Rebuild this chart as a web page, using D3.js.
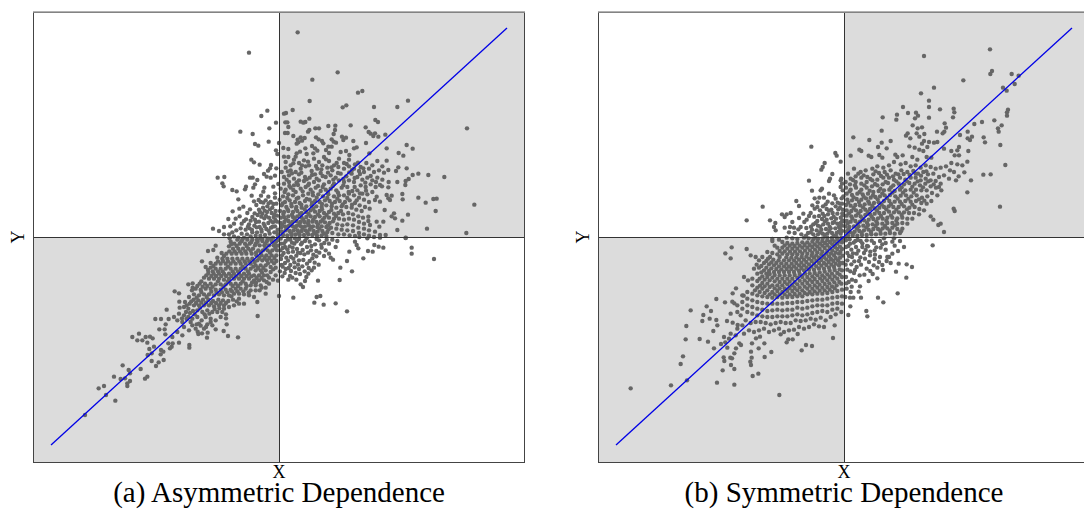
<!DOCTYPE html>
<html lang="en">
<head>
  <meta charset="UTF-8">
  <title>Dependence</title>
  <script src="https://d3js.org/d3.v7.min.js"></script>
  <style>
    body { margin: 0; padding: 0; background: #fff; overflow: hidden; }
    svg { position: absolute; left: 0; top: 0; }
    text { font-family: 'Liberation Serif', serif; fill: #000; }
  </style>
</head>
<body>
  <svg id="chart" width="1084" height="513"></svg>
  <script>
    // values, the chart has no ticks so units are arbitrary, origin at the crossing
    var xExtent = [-738, 735];
    var yExtent = [-675, 675];
    var lineEnds = [[-684, -624], [684, 627]];
    var titles = ['(a) Asymmetric Dependence', '(b) Symmetric Dependence'];

    var asymOuter = [[56,614],[-90,553],[176,494],[100,472],[250,438],[237,433],[92,408],[387,409],[202,395],[191,389],[285,390],[355,390],[-35,379],[41,381],[21,372],[15,370],[-53,363],[91,355],[289,351],[297,345],[-9,343],[19,344],[25,344],[65,346],[79,345],[73,343],[28,330],[-29,326],[-116,316],[-79,309],[564,326],[148,333],[169,334],[215,335],[260,329],[109,326],[120,326],[91,321],[168,321],[87,316],[18,312],[26,312],[164,309],[269,315],[275,310],[288,311],[319,307],[283,303],[298,301],[43,303],[65,299],[77,297],[56,292],[69,289],[111,299],[119,293],[189,301],[201,298],[193,291],[158,293],[164,286],[171,283],[129,288],[133,281],[223,288],[261,282],[383,276],[401,265],[323,266],[-31,286],[0,282],[-72,279],[-62,274],[13,267],[28,264],[58,284],[53,280],[79,266],[99,273],[108,266],[115,259],[148,271],[158,271],[141,261],[150,252],[185,255],[201,258],[211,246],[225,266],[233,269],[271,251],[-9,260],[-5,249],[15,241],[28,240],[53,251],[50,241],[63,256],[83,249],[103,251],[359,252],[373,244],[323,229],[-83,232],[-75,224],[-58,217],[-24,216],[-8,206],[-27,206],[-33,199],[-45,189],[-37,181],[-25,178],[-12,184],[-87,178],[-79,178],[-184,178],[-164,180],[-170,161],[-166,152],[-65,171],[-72,158],[-99,151],[-77,148],[-44,148],[-47,136],[-17,151],[-2,159],[-140,141],[-127,137],[-102,143],[-82,124],[-54,124],[-32,121],[-122,113],[-12,131]];
    var asymUpperRight = [[383,206],[358,209],[351,198],[328,201],[315,193],[418,190],[448,186],[496,180],[401,186],[389,174],[380,168],[355,165],[329,165],[379,156],[328,149],[303,156],[370,129],[418,118],[371,113],[440,103],[463,114],[473,115],[586,97],[470,78],[387,67],[345,71],[338,62],[348,56],[370,49],[355,21],[444,25],[562,12],[380,-3],[320,6],[317,81],[293,121],[323,126],[338,124],[328,116],[333,111],[288,111],[303,106],[313,46],[293,46],[273,36],[301,31],[288,16],[303,6],[268,61],[20,225],[35,215],[45,232],[60,222],[75,230],[90,215],[105,235],[120,225],[135,240],[150,228],[165,215],[180,235],[195,222],[210,232],[228,218],[245,210],[262,222],[280,215],[295,228],[310,212],[270,205],[285,195],[300,200],[255,195],[240,198],[225,205],[210,212],[195,205],[178,210],[160,200],[145,208],[130,215],[115,205],[98,198],[80,212],[65,205],[50,195],[35,200],[20,208],[8,195],[15,180],[30,185],[45,175],[60,188],[78,180],[92,178],[108,188],[125,192],[140,180],[155,185],[170,178],[185,190],[202,182],[218,190],[235,180],[250,172],[265,178],[280,170],[295,178],[310,172],[245,155],[260,150],[275,158],[290,150],[225,165],[210,170],[195,165],[180,170],[165,160],[150,165],[135,158],[120,170],[105,165],[90,160],[75,168],[60,170],[45,155],[30,165],[15,160],[5,145],[20,142],[35,148],[50,135],[65,145],[80,150],[95,142],[110,148],[125,138],[140,142],[155,145],[172,140],[188,148],[205,150],[220,138],[235,140],[250,130],[265,128],[280,135],[240,118],[255,112],[270,105],[225,125],[210,130],[195,125],[180,125],[165,122],[148,128],[132,122],[118,128],[102,125],[88,130],[72,125],[58,118],[42,125],[28,128],[12,122],[2,112],[18,105],[32,110],[48,105],[62,102],[78,108],[92,112],[108,108],[122,105],[138,110],[152,108],[168,105],[182,108],[198,105],[212,110],[228,102],[242,95],[258,90],[272,85],[248,78],[232,82],[218,88],[202,90],[188,92],[172,88],[158,92],[142,95],[128,90],[112,92],[98,95],[82,92],[68,88],[52,90],[38,92],[22,90],[8,95],[3,78],[15,75],[28,78],[42,75],[55,78],[68,72],[82,75],[95,80],[108,76],[122,78],[135,72],[150,75],[165,70],[178,72],[192,68],[208,72],[222,68],[238,62],[252,58],[268,48],[255,40],[240,45],[225,52],[210,55],[195,52],[180,55],[165,55],[150,58],[136,58],[122,62],[108,60],[95,62],[82,60],[68,58],[55,62],[42,60],[28,62],[15,60],[5,58],[4,42],[16,45],[28,48],[40,45],[52,48],[64,45],[76,45],[88,48],[100,46],[112,45],[125,46],[138,44],[152,42],[175,38],[190,35],[205,38],[222,35],[238,28],[255,25],[270,20],[240,12],[222,18],[205,20],[188,22],[172,25],[156,28],[142,30],[128,32],[115,30],[102,32],[90,34],[78,32],[66,32],[54,34],[42,32],[30,34],[18,32],[6,28],[8,16],[20,20],[32,18],[44,20],[56,20],[68,18],[80,20],[92,22],[104,18],[116,16],[130,18],[145,15],[160,12],[178,8],[195,8],[212,5],[228,3],[255,8],[270,4],[12,6],[25,5],[38,6],[50,8],[62,6],[75,6],[88,8],[100,6],[114,4],[128,5],[142,3]];
    var asymUpperLeft = [[-12,118],[-25,105],[-40,110],[-55,105],[-68,96],[-60,82],[-48,88],[-35,92],[-20,88],[-8,100],[-10,78],[-22,72],[-36,75],[-50,70],[-64,66],[-80,60],[-95,72],[-105,48],[-118,62],[-130,55],[-135,40],[-112,40],[-90,38],[-72,52],[-60,46],[-44,56],[-30,58],[-16,60],[-6,64],[-6,46],[-18,44],[-32,42],[-46,40],[-58,30],[-74,34],[-88,26],[-100,22],[-115,26],[-128,20],[-150,8],[-165,8],[-180,18],[-165,30],[-198,25],[-140,14],[-112,10],[-96,8],[-80,14],[-66,14],[-52,16],[-38,24],[-24,28],[-12,32],[-4,22],[-14,14],[-28,10],[-42,6],[-56,4],[-70,4],[-85,2],[-135,2],[-122,-2],[-4,6],[-18,-2],[-34,-4],[-50,-6],[-66,-8],[-105,-2],[-148,-4]];
    var asymLowerRight = [[465,-66],[398,-32],[398,-50],[380,-2],[219,-103],[182,-129],[184,-92],[204,-72],[211,-44],[238,-34],[253,-64],[267,-42],[281,-44],[286,-24],[299,-29],[313,-32],[228,-14],[233,-24],[241,0],[265,-4],[285,0],[303,-2],[204,-223],[170,-199],[134,-203],[106,-197],[124,-177],[113,-180],[43,-182],[0,-177],[117,-131],[98,-100],[105,-92],[88,-110],[72,-150],[65,-142],[78,-132],[82,-120],[52,-128],[40,-122],[28,-128],[10,-118],[20,-96],[36,-102],[50,-108],[60,-96],[70,-88],[84,-80],[92,-72],[100,-64],[112,-58],[155,-62],[162,-68],[150,-50],[140,-40],[170,-30],[150,-20],[160,-8],[175,-12],[128,-32],[136,-18],[120,-10],[108,-22],[112,-42],[96,-40],[84,-30],[92,-14],[76,-52],[60,-70],[46,-76],[34,-84],[18,-78],[8,-84],[6,-66],[22,-62],[36,-60],[52,-56],[64,-48],[78,-12],[66,-22],[54,-36],[42,-44],[28,-46],[14,-48],[4,-40],[18,-30],[32,-28],[46,-20],[60,-6],[6,-20],[20,-12],[34,-8],[48,-4]];
    var asymLowerLeft = [[-64,-237],[-123,-301],[-153,-297],[-166,-282],[-159,-244],[-159,-232],[-157,-262],[-190,-277],[-214,-287],[-216,-302],[-231,-289],[-244,-284],[-242,-291],[-269,-324],[-269,-332],[-300,-317],[-322,-329],[-327,-334],[-332,-319],[-319,-319],[-337,-218],[-313,-163],[-300,-169],[-299,-194],[-272,-142],[-259,-139],[-259,-152],[-231,-73],[-213,-42],[-197,-39],[-190,-26],[-371,-246],[-354,-246],[-331,-246],[-340,-262],[-359,-277],[-343,-277],[-341,-292],[-387,-299],[-379,-304],[-395,-317],[-375,-329],[-389,-336],[-394,-354],[-382,-349],[-354,-339],[-347,-344],[-355,-352],[-346,-369],[-361,-376],[-369,-387],[-382,-372],[-469,-385],[-451,-399],[-447,-409],[-475,-426],[-462,-424],[-447,-432],[-455,-439],[-455,-447],[-495,-419],[-415,-396],[-395,-419],[-402,-425],[-525,-447],[-541,-454],[-519,-474],[-491,-491],[-582,-534],[-440,-300],[-425,-310],[-410,-310],[-400,-300],[-420,-290],[-320,-300],[-305,-285],[-290,-295],[-285,-270],[-270,-280],[-260,-265],[-250,-275],[-240,-260],[-225,-275],[-215,-262],[-200,-265],[-290,-255],[-305,-250],[-315,-240],[-300,-230],[-285,-235],[-272,-240],[-260,-245],[-245,-240],[-232,-250],[-220,-240],[-205,-245],[-190,-250],[-175,-240],[-170,-225],[-185,-225],[-200,-225],[-215,-220],[-230,-225],[-245,-220],[-258,-222],[-272,-215],[-285,-210],[-298,-212],[-282,-195],[-268,-200],[-255,-205],[-240,-205],[-225,-205],[-210,-205],[-195,-208],[-180,-205],[-165,-205],[-150,-210],[-135,-205],[-120,-200],[-105,-200],[-120,-185],[-138,-188],[-152,-192],[-168,-190],[-182,-188],[-198,-192],[-212,-188],[-228,-188],[-242,-190],[-256,-188],[-270,-180],[-255,-172],[-240,-175],[-225,-172],[-210,-172],[-195,-175],[-180,-172],[-165,-175],[-150,-175],[-135,-170],[-120,-170],[-105,-172],[-90,-175],[-75,-180],[-65,-195],[-58,-160],[-40,-170],[-70,-160],[-85,-160],[-100,-155],[-115,-155],[-130,-155],[-145,-158],[-160,-158],[-175,-158],[-190,-158],[-205,-155],[-220,-155],[-235,-158],[-250,-155],[-238,-140],[-222,-140],[-205,-140],[-190,-142],[-175,-142],[-160,-142],[-145,-140],[-130,-140],[-115,-140],[-100,-140],[-85,-145],[-70,-145],[-55,-145],[-40,-152],[-30,-140],[-45,-130],[-60,-130],[-75,-130],[-90,-125],[-105,-125],[-120,-125],[-135,-125],[-150,-125],[-165,-128],[-180,-125],[-195,-125],[-210,-125],[-225,-122],[-212,-108],[-196,-110],[-180,-110],[-165,-110],[-150,-110],[-135,-110],[-120,-110],[-105,-110],[-90,-110],[-75,-115],[-60,-115],[-45,-115],[-30,-122],[-18,-128],[-10,-115],[-25,-105],[-40,-100],[-55,-100],[-70,-100],[-85,-95],[-100,-95],[-115,-95],[-130,-95],[-145,-95],[-160,-95],[-175,-95],[-190,-95],[-205,-92],[-220,-90],[-205,-78],[-190,-80],[-175,-80],[-160,-80],[-145,-80],[-130,-80],[-115,-80],[-100,-80],[-85,-80],[-70,-85],[-55,-85],[-40,-85],[-25,-90],[-10,-92],[-8,-72],[-22,-72],[-36,-70],[-50,-70],[-65,-70],[-80,-65],[-95,-65],[-110,-65],[-125,-65],[-140,-65],[-155,-65],[-170,-65],[-185,-62],[-172,-48],[-158,-50],[-142,-50],[-128,-50],[-112,-50],[-98,-50],[-82,-50],[-68,-55],[-52,-55],[-38,-55],[-22,-55],[-8,-55],[-6,-40],[-20,-40],[-34,-40],[-48,-40],[-62,-40],[-78,-35],[-92,-35],[-108,-35],[-122,-35],[-138,-35],[-150,-28],[-134,-20],[-118,-20],[-102,-20],[-88,-20],[-72,-25],[-58,-25],[-44,-25],[-30,-25],[-16,-25],[-4,-26],[-8,-12],[-22,-12],[-36,-12],[-50,-12],[-64,-14],[-80,-8],[-95,-8],[-110,-8],[-125,-8],[-145,-14]];
    // extra marks in the dense parts, where single dots run together
    var asymDense = [[11,13],[23,27],[37,11],[49,29],[59,13],[71,27],[85,14],[97,29],[109,11],[121,25],[135,11],[149,23],[9,37],[21,53],[35,39],[47,55],[61,39],[73,52],[87,41],[103,53],[117,38],[131,51],[147,35],[162,47],[13,69],[26,83],[39,67],[51,84],[63,69],[77,83],[89,69],[103,85],[117,68],[129,83],[143,66],[157,81],[171,63],[186,78],[11,101],[25,117],[37,99],[53,115],[67,97],[83,114],[99,103],[113,118],[129,99],[145,117],[159,100],[175,115],[191,98],[205,117],[219,97],[233,110],[17,135],[31,153],[43,141],[57,156],[71,137],[87,155],[101,134],[117,153],[131,150],[147,136],[161,153],[177,133],[193,155],[209,135],[227,150],[243,131],[261,139],[23,172],[39,191],[53,164],[67,193],[83,173],[99,186],[113,175],[131,183],[147,193],[163,172],[177,192],[193,174],[211,194],[227,177],[243,189],[259,163],[275,183],[291,165],[309,152],[27,197],[43,221],[69,215],[87,226],[111,213],[127,203],[141,233],[157,209],[173,222],[203,219],[219,201],[237,223],[253,206],[-7,14],[-19,31],[-31,19],[-43,33],[-53,23],[-67,29],[-81,21],[-93,31],[-11,51],[-25,49],[-39,63],[-53,61],[-69,45],[-85,49],[-99,53],[-13,67],[-27,83],[-43,79],[-57,75],[-73,71],[-87,83],[-17,99],[-31,101],[-47,103],[-61,111],[-75,107],[-107,91],[-119,85],[-139,77],[-152,54],[-146,32],[5,-5],[15,-19],[27,-7],[39,-17],[53,-13],[69,-17],[83,-4],[97,-27],[113,-6],[127,-23],[143,-8],[11,-33],[25,-37],[41,-32],[57,-47],[71,-39],[87,-47],[103,-53],[121,-47],[135,-57],[9,-55],[27,-71],[43,-65],[57,-83],[73,-69],[89,-93],[107,-77],[119,-83],[11,-89],[29,-93],[47,-91],[63,-111],[77,-103],[17,-108],[33,-117],[3,-103],[-3,-131],[-4,-9],[-13,-19],[-27,-5],[-41,-19],[-55,-5],[-69,-19],[-83,-15],[-97,-27],[-113,-13],[-127,-27],[-143,-21],[-11,-33],[-27,-47],[-41,-33],[-55,-47],[-69,-47],[-85,-41],[-101,-43],[-117,-43],[-133,-43],[-149,-43],[-165,-57],[-14,-63],[-29,-63],[-43,-63],[-59,-63],[-73,-75],[-89,-73],[-103,-73],[-119,-73],[-137,-73],[-153,-73],[-168,-72],[-183,-73],[-197,-87],[-15,-79],[-33,-79],[-47,-93],[-63,-93],[-77,-89],[-93,-103],[-109,-89],[-123,-103],[-139,-103],[-153,-89],[-169,-103],[-183,-103],[-199,-103],[-213,-99],[-17,-97],[-35,-115],[-51,-107],[-67,-123],[-83,-118],[-97,-117],[-113,-117],[-129,-118],[-143,-117],[-159,-117],[-173,-117],[-189,-117],[-203,-117],[-218,-115],[-233,-133],[-37,-135],[-52,-123],[-69,-137],[-81,-137],[-97,-147],[-109,-133],[-123,-147],[-139,-147],[-153,-133],[-167,-149],[-183,-133],[-199,-149],[-215,-147],[-229,-149],[-245,-147],[-261,-160],[-52,-152],[-91,-167],[-107,-163],[-125,-163],[-141,-163],[-155,-166],[-171,-166],[-187,-166],[-203,-164],[-217,-180],[-233,-165],[-247,-182],[-263,-193],[-127,-193],[-143,-178],[-159,-198],[-175,-198],[-189,-198],[-203,-198],[-219,-197],[-233,-197],[-249,-198],[-277,-205],[-165,-215],[-179,-214],[-193,-216],[-209,-230],[-223,-232],[-237,-212],[-253,-232],[-267,-228],[-279,-225],[-291,-244],[-265,-255],[-277,-246],[-235,-266],[-219,-270],[-205,-255],[-247,-262]];

    var symOuter = [[438,563],[240,543],[444,498],[439,489],[503,489],[524,484],[358,470],[512,459],[477,448],[488,439],[270,448],[231,431],[255,409],[255,390],[177,390],[288,383],[329,385],[331,374],[327,359],[492,382],[489,374],[489,364],[192,372],[216,373],[222,364],[213,356],[159,367],[157,352],[116,359],[255,358],[451,350],[414,345],[391,339],[302,341],[473,335],[462,326],[464,316],[306,328],[301,316],[296,311],[206,335],[221,326],[234,329],[113,319],[279,316],[348,306],[371,316],[384,301],[378,291],[371,296],[191,311],[186,304],[199,296],[218,311],[241,309],[226,301],[28,299],[76,291],[140,288],[113,283],[419,299],[423,284],[469,276],[-98,271],[240,288],[255,285],[270,283],[280,285],[234,280],[250,270],[196,272],[212,268],[226,262],[238,258],[102,270],[128,266],[46,262],[52,258],[74,244],[82,240],[20,244],[106,246],[115,238],[154,247],[160,240],[176,245],[205,240],[220,232],[248,240],[262,238],[300,265],[322,258],[345,270],[340,260],[332,245],[345,245],[373,258],[-26,252],[-22,244],[-10,226],[-58,222],[-64,210],[-68,202],[-35,189],[-45,168],[-42,175],[-105,169],[-96,139],[-66,145],[-70,140],[-88,116],[-74,118],[-60,118],[-10,170],[-6,160],[-143,108],[-135,93],[-244,91],[-160,72],[-178,60],[-186,68],[-172,68],[-122,70],[-135,57],[-112,52],[-292,50],[-222,50],[-206,42],[-210,30],[-205,20],[-162,30],[-130,30],[-137,23],[-150,28],[-100,72],[-88,85],[-95,95],[-80,90],[-55,98],[-30,125],[-45,130],[-25,115],[-12,100],[-72,80],[370,226],[484,216],[418,187],[440,188],[361,194],[381,170],[370,134],[468,91],[329,85],[332,78],[300,15],[260,62],[268,52],[283,36],[290,40],[336,170],[344,182],[330,195],[318,200],[355,215],[340,218],[322,222],[306,212],[290,208],[275,205],[260,210],[245,215],[230,208],[215,215],[200,212],[185,222],[170,218],[150,225],[135,215],[118,208],[100,212],[85,205],[65,200],[50,195],[30,205],[12,190],[20,175],[35,182],[52,178],[70,180],[88,188],[105,192],[122,195],[140,200],[155,190],[172,200],[190,195],[208,198],[222,190],[238,195],[252,188],[268,190],[285,180],[300,185],[315,175],[290,160],[275,168],[260,170],[245,175],[230,170],[215,178],[200,178],[184,172],[168,178],[150,172],[135,178],[118,178],[100,172],[85,170],[68,165],[52,160],[35,165],[18,158],[5,165],[-8,175],[-10,150]];
    var symUpperCore = [[6,148],[20,142],[36,148],[52,142],[68,148],[84,152],[100,155],[116,158],[132,162],[148,155],[164,160],[180,158],[196,162],[212,160],[228,155],[244,160],[260,152],[276,148],[292,140],[280,125],[264,132],[248,140],[232,140],[216,142],[200,142],[184,140],[168,142],[152,138],[136,142],[120,140],[104,138],[88,135],[72,130],[56,128],[40,130],[24,126],[8,130],[-4,140],[-2,122],[10,112],[24,110],[38,114],[52,112],[66,116],[80,118],[94,120],[108,122],[122,125],[138,126],[154,122],[170,124],[186,125],[202,122],[218,125],[234,118],[250,122],[262,108],[248,100],[232,102],[216,108],[200,106],[184,108],[168,106],[152,106],[136,108],[120,108],[104,104],[90,102],[76,100],[62,98],[48,95],[34,96],[20,94],[6,96],[-6,100],[-4,82],[8,80],[22,78],[36,80],[50,78],[64,82],[78,84],[92,86],[106,88],[120,90],[134,92],[148,90],[164,90],[180,92],[196,88],[212,90],[226,84],[240,80],[225,68],[210,72],[195,72],[180,74],[165,74],[150,74],[135,76],[120,72],[106,72],[92,70],[78,68],[64,66],[50,62],[36,64],[22,62],[8,64],[-4,65],[-5,50],[8,48],[20,46],[34,48],[48,46],[60,50],[74,52],[88,54],[102,56],[116,55],[130,58],[145,58],[160,56],[175,58],[190,55],[205,55],[190,40],[175,42],[160,40],[145,42],[130,42],[115,40],[100,40],[86,38],[72,36],[58,34],[44,32],[30,32],[16,30],[4,32],[-6,34],[-6,18],[6,16],[18,14],[32,16],[46,18],[60,20],[74,22],[88,24],[102,24],[116,26],[130,26],[145,28],[160,24],[175,25],[168,12],[152,10],[138,12],[124,10],[110,10],[96,8],[82,8],[68,6],[54,6],[40,4],[26,4],[12,4],[120,-4],[150,-4]];
    var symUpperLeft = [[-12,88],[-25,92],[-38,82],[-52,84],[-64,70],[-48,68],[-34,72],[-20,70],[-10,58],[-24,55],[-38,56],[-52,52],[-66,54],[-80,48],[-92,38],[-78,34],[-62,38],[-48,40],[-34,42],[-20,40],[-10,42],[-12,26],[-26,26],[-40,26],[-54,24],[-68,22],[-82,20],[-96,22],[-108,12],[-92,8],[-78,8],[-64,10],[-50,10],[-36,12],[-22,12],[-10,10],[-8,-2],[-22,0],[-36,-2],[-50,-2],[-64,-4],[-78,-6],[-92,-6],[-106,-4],[-120,-2],[-140,-6],[-155,-4],[-172,-2],[-195,-8],[-215,-6]];
    var symLowerRight = [[266,-25],[204,-90],[188,-82],[187,-122],[164,-80],[156,-104],[161,-169],[118,-196],[102,-182],[67,-222],[70,-238],[51,-182],[44,-164],[13,-234],[19,-208],[28,-182],[18,-182],[74,-132],[79,-102],[100,-92],[115,-84],[128,-72],[140,-78],[130,-60],[145,-50],[162,-42],[180,-30],[152,-26],[168,-12],[145,-14],[125,-38],[108,-60],[92,-66],[110,-32],[92,-40],[78,-55],[72,-28],[90,-18],[108,-12],[125,-18],[68,-10],[50,-12],[55,-30],[60,-48],[45,-72],[38,-90],[30,-108],[24,-128],[14,-135],[8,-155],[20,-165],[6,-120],[10,-98],[22,-82],[10,-70],[24,-60],[38,-50],[36,-30],[22,-38],[10,-48],[6,-30],[18,-20],[34,-12],[6,-10]];
    var symLowerLeft = [[-640,-454],[-519,-445],[-471,-430],[-490,-381],[-483,-358],[-475,-307],[-473,-267],[-460,-220],[-433,-306],[-408,-314],[-425,-252],[-422,-234],[-412,-208],[-399,-222],[-403,-245],[-383,-249],[-380,-265],[-392,-282],[-383,-186],[-356,-49],[-337,-31],[-340,-64],[-292,-36],[-357,-196],[-335,-194],[-329,-199],[-334,-169],[-324,-154],[-301,-176],[-351,-252],[-334,-257],[-319,-264],[-390,-334],[-369,-321],[-356,-316],[-350,-332],[-329,-349],[-361,-361],[-359,-372],[-341,-362],[-336,-364],[-339,-384],[-329,-396],[-364,-400],[-381,-437],[-329,-443],[-274,-417],[-257,-410],[-281,-374],[-279,-384],[-277,-362],[-279,-344],[-256,-334],[-239,-319],[-238,-360],[-218,-345],[-194,-474],[-127,-340],[-114,-324],[-96,-327],[-33,-303],[-172,-316],[-167,-307],[-154,-307],[-190,-292],[-139,-291],[-264,-304],[-252,-299],[-276,-319],[-314,-319],[-324,-334],[-309,-324],[-300,-290],[-285,-280],[-270,-285],[-255,-280],[-240,-275],[-225,-285],[-210,-280],[-195,-275],[-180,-285],[-165,-280],[-150,-278],[-135,-270],[-120,-275],[-105,-270],[-90,-262],[-75,-268],[-60,-270],[-28,-265],[-320,-275],[-305,-265],[-340,-290],[-360,-300],[-345,-305],[-325,-295],[-310,-235],[-295,-250],[-280,-258],[-265,-255],[-250,-255],[-235,-258],[-220,-262],[-205,-258],[-190,-255],[-175,-258],[-160,-258],[-145,-250],[-130,-252],[-115,-250],[-100,-245],[-85,-248],[-70,-242],[-55,-250],[-40,-240],[-25,-232],[-8,-225],[-20,-215],[-35,-218],[-50,-225],[-65,-222],[-80,-225],[-95,-228],[-110,-232],[-125,-235],[-140,-232],[-155,-235],[-170,-238],[-185,-238],[-200,-238],[-215,-240],[-230,-240],[-245,-238],[-260,-235],[-275,-230],[-290,-225],[-305,-215],[-320,-225],[-340,-230],[-320,-205],[-305,-195],[-290,-205],[-275,-210],[-260,-215],[-245,-218],[-230,-222],[-215,-220],[-200,-218],[-185,-220],[-170,-218],[-155,-218],[-140,-212],[-125,-215],[-110,-212],[-95,-208],[-80,-205],[-65,-205],[-50,-205],[-35,-200],[-20,-198],[-6,-200],[-6,-178],[-20,-180],[-35,-182],[-50,-185],[-65,-188],[-80,-188],[-95,-190],[-110,-192],[-125,-195],[-140,-195],[-155,-198],[-170,-198],[-185,-200],[-200,-200],[-215,-200],[-230,-200],[-245,-198],[-260,-195],[-275,-190],[-290,-185],[-305,-175],[-290,-165],[-275,-170],[-260,-175],[-245,-178],[-230,-180],[-215,-182],[-200,-180],[-185,-182],[-170,-180],[-155,-180],[-140,-178],[-125,-178],[-110,-172],[-95,-172],[-80,-170],[-65,-170],[-50,-168],[-35,-165],[-20,-162],[-6,-158],[-8,-140],[-22,-145],[-36,-148],[-50,-150],[-65,-152],[-80,-152],[-95,-155],[-110,-155],[-125,-160],[-140,-160],[-155,-162],[-170,-162],[-185,-165],[-200,-162],[-215,-165],[-230,-160],[-245,-155],[-260,-152],[-275,-145],[-288,-130],[-300,-120],[-275,-125],[-260,-132],[-245,-138],[-230,-140],[-215,-145],[-200,-145],[-185,-145],[-170,-142],[-155,-145],[-140,-142],[-125,-140],[-110,-138],[-95,-135],[-80,-135],[-65,-132],[-50,-130],[-35,-128],[-20,-125],[-6,-120],[-6,-100],[-20,-108],[-36,-110],[-50,-112],[-65,-115],[-80,-115],[-95,-118],[-110,-120],[-125,-120],[-140,-122],[-155,-125],[-170,-125],[-185,-125],[-200,-125],[-215,-122],[-230,-120],[-245,-118],[-260,-110],[-270,-95],[-255,-92],[-240,-100],[-225,-102],[-210,-105],[-195,-105],[-180,-105],[-165,-105],[-150,-105],[-135,-102],[-120,-100],[-105,-98],[-90,-98],[-75,-95],[-60,-95],[-45,-92],[-30,-90],[-15,-85],[-4,-78],[-18,-70],[-32,-72],[-46,-75],[-60,-78],[-75,-78],[-90,-80],[-105,-82],[-120,-85],[-135,-85],[-150,-88],[-165,-88],[-180,-88],[-195,-88],[-210,-85],[-225,-82],[-240,-78],[-255,-70],[-265,-60],[-280,-55],[-245,-60],[-228,-65],[-212,-68],[-196,-70],[-180,-70],[-165,-70],[-150,-70],[-135,-68],[-120,-68],[-105,-65],[-90,-62],[-75,-62],[-60,-60],[-45,-58],[-30,-55],[-15,-50],[-4,-56],[-6,-36],[-20,-36],[-35,-40],[-50,-42],[-65,-44],[-80,-46],[-95,-48],[-110,-50],[-125,-50],[-140,-52],[-155,-52],[-170,-52],[-185,-50],[-200,-52],[-215,-48],[-230,-45],[-200,-32],[-185,-32],[-170,-35],[-155,-35],[-140,-35],[-125,-32],[-110,-32],[-95,-30],[-80,-28],[-65,-26],[-50,-24],[-35,-22],[-20,-20],[-6,-16],[-20,-6],[-35,-8],[-50,-10],[-65,-12],[-80,-14],[-95,-14],[-110,-16],[-125,-16],[-140,-18],[-155,-20],[-170,-18],[-185,-15],[-215,-12]];
    var symDense = [[13,23],[27,11],[39,25],[53,13],[67,29],[81,15],[95,33],[109,19],[123,33],[137,19],[153,35],[171,17],[11,41],[25,55],[41,39],[55,55],[69,43],[83,61],[97,47],[111,63],[127,49],[141,65],[157,49],[173,66],[15,71],[29,87],[43,71],[57,89],[71,75],[85,93],[99,79],[113,97],[127,83],[141,99],[157,82],[173,99],[189,83],[205,97],[13,103],[29,119],[45,105],[59,121],[73,107],[87,125],[101,113],[115,131],[129,117],[145,133],[161,115],[177,133],[193,115],[209,133],[225,113],[241,109],[17,137],[33,155],[47,135],[61,155],[77,139],[93,159],[109,145],[125,165],[141,149],[157,167],[173,149],[189,167],[205,151],[221,167],[237,149],[253,167],[269,158],[285,150],[27,171],[43,190],[59,185],[79,174],[95,197],[111,183],[129,187],[147,182],[163,188],[179,189],[197,186],[215,190],[231,184],[247,197],[-3,47],[-15,31],[-29,45],[-43,31],[-57,47],[-71,31],[-85,42],[-99,31],[-113,27],[-5,71],[-17,83],[-31,61],[-45,79],[-59,63],[-75,63],[-89,61],[-105,63],[-119,45],[-7,116],[-19,103],[-35,101],[-49,106],[-63,92],[-79,104],[-16,16],[-30,4],[-44,18],[-58,6],[-72,14],[-86,-2],[-100,14],[-114,4],[-128,8],[-148,12],[-165,14],[-178,28],[-155,45],[5,-3],[17,-7],[29,-17],[41,-9],[55,-19],[69,-27],[83,-11],[97,-31],[115,-22],[13,-27],[27,-49],[43,-41],[49,-61],[65,-39],[79,-44],[93,-53],[15,-57],[31,-73],[51,-83],[63,-65],[75,-75],[89,-85],[105,-75],[117,-99],[135,-60],[5,-83],[19,-103],[33,-99],[47,-115],[61,-113],[68,-95],[86,-111],[100,-124],[7,-139],[23,-149],[35,-132],[48,-148],[4,-180],[-6,-7],[-13,-13],[-28,-14],[-42,-15],[-57,-18],[-72,-20],[-88,-22],[-103,-24],[-118,-24],[-133,-26],[-148,-27],[-163,-26],[-178,-25],[-193,-42],[-208,-26],[-12,-29],[-27,-30],[-43,-32],[-58,-33],[-73,-36],[-87,-38],[-102,-40],[-117,-41],[-132,-43],[-147,-44],[-162,-44],[-178,-43],[-193,-60],[-222,-60],[-11,-45],[-25,-47],[-39,-49],[-53,-50],[-68,-52],[-83,-55],[-97,-56],[-113,-59],[-127,-60],[-143,-61],[-158,-62],[-173,-61],[-188,-79],[-203,-78],[-218,-76],[-233,-72],[-12,-62],[-25,-63],[-39,-66],[-53,-67],[-68,-69],[-83,-71],[-97,-72],[-113,-75],[-128,-77],[-143,-78],[-157,-80],[-173,-80],[-203,-96],[-218,-94],[-233,-92],[-248,-87],[-262,-83],[-12,-78],[-25,-80],[-38,-83],[-53,-84],[-68,-86],[-83,-88],[-98,-89],[-112,-92],[-128,-93],[-143,-95],[-158,-96],[-172,-96],[-188,-97],[-233,-110],[-248,-106],[-13,-97],[-28,-99],[-43,-101],[-58,-104],[-73,-106],[-88,-108],[-103,-109],[-117,-110],[-133,-111],[-148,-114],[-163,-115],[-178,-115],[-193,-115],[-208,-114],[-223,-111],[-238,-128],[-253,-125],[-13,-113],[-28,-118],[-43,-120],[-58,-122],[-72,-124],[-88,-126],[-103,-128],[-118,-130],[-133,-131],[-148,-135],[-163,-134],[-178,-135],[-193,-135],[-208,-133],[-223,-130],[-252,-146],[-14,-135],[-29,-136],[-44,-139],[-58,-141],[-73,-143],[-88,-145],[-103,-146],[-118,-149],[-133,-151],[-148,-153],[-163,-153],[-178,-154],[-193,-154],[-208,-154],[-223,-150],[-238,-148],[-267,-160],[-28,-154],[-43,-158],[-58,-160],[-73,-161],[-88,-163],[-103,-165],[-118,-168],[-133,-170],[-148,-171],[-163,-172],[-178,-172],[-193,-172],[-208,-172],[-223,-172],[-238,-168],[-253,-165]];

    var asymPoints = asymOuter.concat(asymUpperRight, asymUpperLeft, asymLowerRight, asymLowerLeft, asymDense);
    var symPoints = symOuter.concat(symUpperCore, symUpperLeft, symLowerRight, symLowerLeft, symDense);

    var svg = d3.select('#chart');

    function drawPanel(points, left, title) {
      var width = 491;
      var x = d3.scaleLinear().domain(xExtent).range([left, left + width]);
      var y = d3.scaleLinear().domain(yExtent).range([462, 12]);
      var g = svg.append('g');

      g.append('rect')
        .attr('x', x(0)).attr('y', y(yExtent[1]))
        .attr('width', x(xExtent[1]) - x(0)).attr('height', y(0) - y(yExtent[1]))
        .attr('fill', '#dcdcdc');
      g.append('rect')
        .attr('x', x(xExtent[0])).attr('y', y(0))
        .attr('width', x(0) - x(xExtent[0])).attr('height', y(yExtent[0]) - y(0))
        .attr('fill', '#dcdcdc');

      g.selectAll('circle')
        .data(points).enter().append('circle')
        .attr('cx', function(d) {return x(d[0])})
        .attr('cy', function(d) {return y(d[1])})
        .attr('r', 2.2)
        .attr('fill', '#666');

      g.append('line')
        .attr('x1', x(0) + 0.5).attr('x2', x(0) + 0.5)
        .attr('y1', y(yExtent[0])).attr('y2', y(yExtent[1]))
        .attr('stroke', '#333').attr('stroke-width', 1);
      g.append('line')
        .attr('x1', x(xExtent[0])).attr('x2', x(xExtent[1]))
        .attr('y1', y(0) + 0.5).attr('y2', y(0) + 0.5)
        .attr('stroke', '#333').attr('stroke-width', 1);

      g.append('line')
        .attr('x1', x(lineEnds[0][0])).attr('y1', y(lineEnds[0][1]))
        .attr('x2', x(lineEnds[1][0])).attr('y2', y(lineEnds[1][1]))
        .attr('stroke', '#0000e6').attr('stroke-width', 1.3);

      g.append('rect')
        .attr('x', left + 0.5).attr('y', 12.5)
        .attr('width', width).attr('height', 450)
        .attr('fill', 'none').attr('stroke', '#444').attr('stroke-width', 1);
      g.append('line')
        .attr('x1', left).attr('x2', left + width + 1)
        .attr('y1', 12).attr('y2', 12)
        .attr('stroke', '#999').attr('stroke-width', 1.6);

      g.append('text')
        .attr('x', x(0)).attr('y', 478)
        .attr('text-anchor', 'middle').attr('font-size', 18)
        .text('X');
      g.append('text')
        .attr('transform', 'translate(' + (left - 9) + ',' + y(0) + ')rotate(-90)')
        .attr('text-anchor', 'middle').attr('font-size', 18)
        .text('Y');
      g.append('text')
        .attr('x', x(0)).attr('y', 502)
        .attr('text-anchor', 'middle').attr('font-size', 29)
        .text(title);
    }

    drawPanel(asymPoints, 33, titles[0]);
    drawPanel(symPoints, 598, titles[1]);
  </script>
</body>
</html>
